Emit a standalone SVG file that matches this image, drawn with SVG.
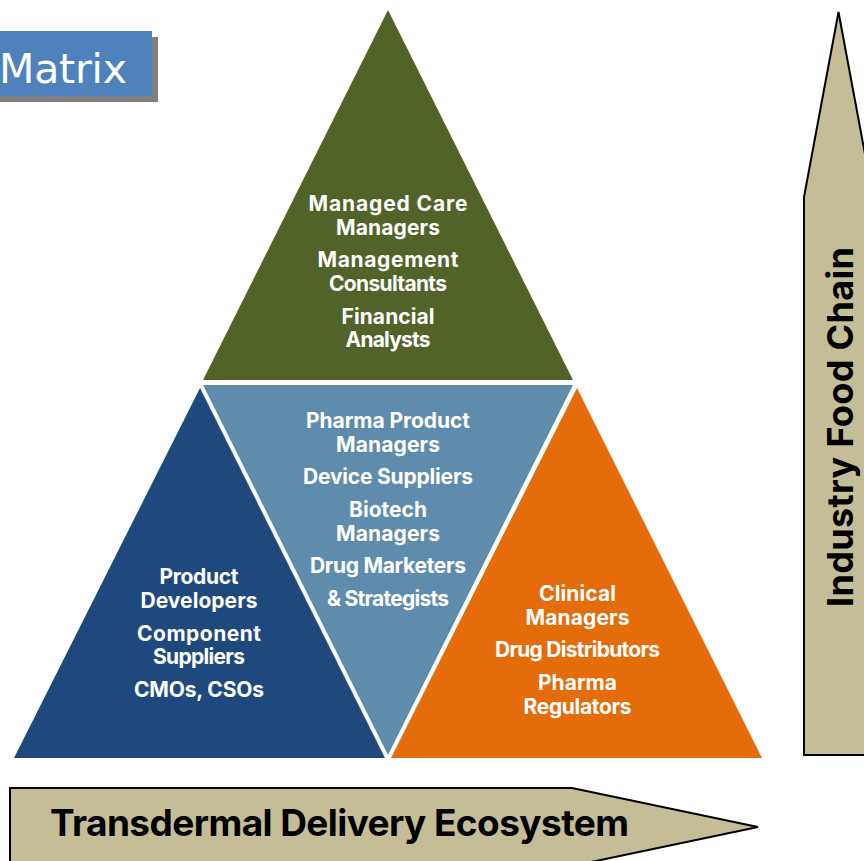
<svg xmlns="http://www.w3.org/2000/svg" width="864" height="861" viewBox="0 0 864 861">
<style>
.l{font-family:"Inter","Liberation Sans",sans-serif;font-weight:700;font-size:21px;fill:#fff;text-anchor:middle}
.a{fill:#c4bd97;stroke:#000;stroke-width:2}
.h{font-family:"Inter","Liberation Sans",sans-serif;font-weight:700;fill:#000}
</style>
<rect width="864" height="861" fill="#fff"/>
<g id="matrix-label">
<rect x="-10" y="37" width="168" height="65" fill="#808080"/>
<rect x="-10" y="31" width="162" height="65" fill="#4f81bd"/>
<text x="-1" y="83" font-family="'DejaVu Sans',sans-serif" font-size="41" fill="#fff" textLength="128">Matrix</text>
</g>
<g id="node-top">
<polygon points="388,10 573,380 203,380" fill="#526329"/>
<text class="l" x="388" y="211" textLength="159">Managed Care</text>
<text class="l" x="388" y="235" textLength="104">Managers</text>
<text class="l" x="388" y="267" textLength="141">Management</text>
<text class="l" x="388" y="291" textLength="118">Consultants</text>
<text class="l" x="388" y="324" textLength="93">Financial</text>
<text class="l" x="388" y="347" textLength="85">Analysts</text>
</g>
<g id="node-left">
<polygon points="200,388 385,758 14,758" fill="#1f497d"/>
<text class="l" x="199" y="584" textLength="79">Product</text>
<text class="l" x="199" y="608" textLength="117">Developers</text>
<text class="l" x="199" y="641" textLength="124">Component</text>
<text class="l" x="199" y="664" textLength="92">Suppliers</text>
<text class="l" x="199" y="697" textLength="130">CMOs, CSOs</text>
</g>
<g id="node-center">
<polygon points="203,385 573,385 388,755" fill="#5f8cad"/>
<text class="l" x="388" y="428" textLength="164">Pharma Product</text>
<text class="l" x="388" y="452" textLength="104">Managers</text>
<text class="l" x="388" y="484" textLength="170">Device Suppliers</text>
<text class="l" x="388" y="517" textLength="78">Biotech</text>
<text class="l" x="388" y="541" textLength="104">Managers</text>
<text class="l" x="388" y="573" textLength="156">Drug Marketers</text>
<text class="l" x="388" y="606" textLength="122">&amp; Strategists</text>
</g>
<g id="node-right">
<polygon points="577,388 762,758 391,758" fill="#e46c0a"/>
<text class="l" x="577.5" y="601" textLength="77">Clinical</text>
<text class="l" x="577.5" y="625" textLength="104">Managers</text>
<text class="l" x="577.5" y="657" textLength="165">Drug Distributors</text>
<text class="l" x="577.5" y="690" textLength="79">Pharma</text>
<text class="l" x="577.5" y="714" textLength="108">Regulators</text>
</g>
<g id="arrow-food-chain">
<polygon class="a" points="838.5,12 873,197 873,755 804,755 804,197"/>
<text class="h" font-size="36" transform="translate(853,607) rotate(-90)" textLength="360">Industry Food Chain</text>
</g>
<g id="arrow-ecosystem">
<polygon class="a" points="10,788 572,788 758,827 572,866 10,866"/>
<text class="h" font-size="37" x="50" y="836" textLength="579">Transdermal Delivery Ecosystem</text>
</g>
</svg>
